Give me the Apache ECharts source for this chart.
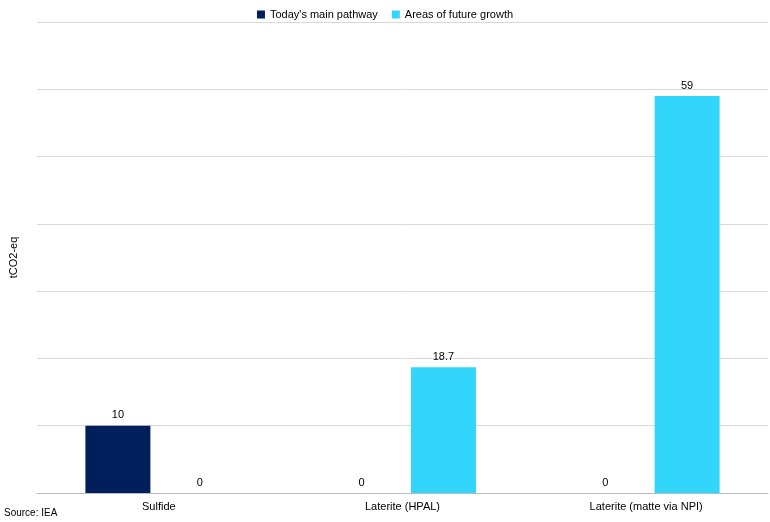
<!DOCTYPE html>
<html>
<head>
<meta charset="utf-8">
<script src="https://cdn.jsdelivr.net/npm/echarts@6/dist/echarts.min.js"></script>
<style>html,body{margin:0;padding:0;background:#fff}#c{width:770px;height:522px}</style>
</head>
<body>
<div id="c"></div>
<script>
var categories = ['Sulfide', 'Laterite (HPAL)', 'Laterite (matte via NPI)'];
var mainPathway = [10, 0, 0];
var futureGrowth = [0, 18.7, 59];

var myChart = echarts.init(document.getElementById('c'));
var lbl = {show: true, position: 'top', color: '#000', fontSize: 11, fontFamily: 'Liberation Sans'};
var option = {
  textStyle: {fontFamily: 'Liberation Sans'},
  legend: {
    top: 4, left: 'center', itemWidth: 8, itemHeight: 8, itemGap: 14,
    icon: 'rect',
    textStyle: {fontSize: 11, color: '#000'},
    data: ["Today's main pathway", 'Areas of future growth']
  },
  graphic: [
    {type: 'text', left: 4, bottom: 4, style: {text: 'Source: IEA', fontSize: 10, fill: '#000', fontFamily: 'Liberation Sans'}}
  ],
  grid: {left: 32, right: 2, top: 22, bottom: 29},
  xAxis: {
    type: 'category', data: categories,
    axisTick: {show: false},
    axisLine: {lineStyle: {color: '#bbb'}},
    axisLabel: {color: '#000', fontSize: 11, margin: 8}
  },
  yAxis: {
    type: 'value', min: 0, max: 70, interval: 10,
    name: 'tCO2-eq', nameLocation: 'middle', nameGap: 18,
    nameTextStyle: {color: '#000', fontSize: 11},
    axisLabel: {show: false},
    axisLine: {show: false}, axisTick: {show: false},
    splitLine: {lineStyle: {color: '#d9d9d9'}}
  },
  series: [
    {name: "Today's main pathway", type: 'bar', data: mainPathway, barWidth: 65, barGap: '26%',
     itemStyle: {color: '#001f5b'}, label: lbl},
    {name: 'Areas of future growth', type: 'bar', data: futureGrowth, barWidth: 65,
     itemStyle: {color: '#33d6fb'}, label: lbl}
  ]
};
myChart.setOption(option);
</script>
</body>
</html>
